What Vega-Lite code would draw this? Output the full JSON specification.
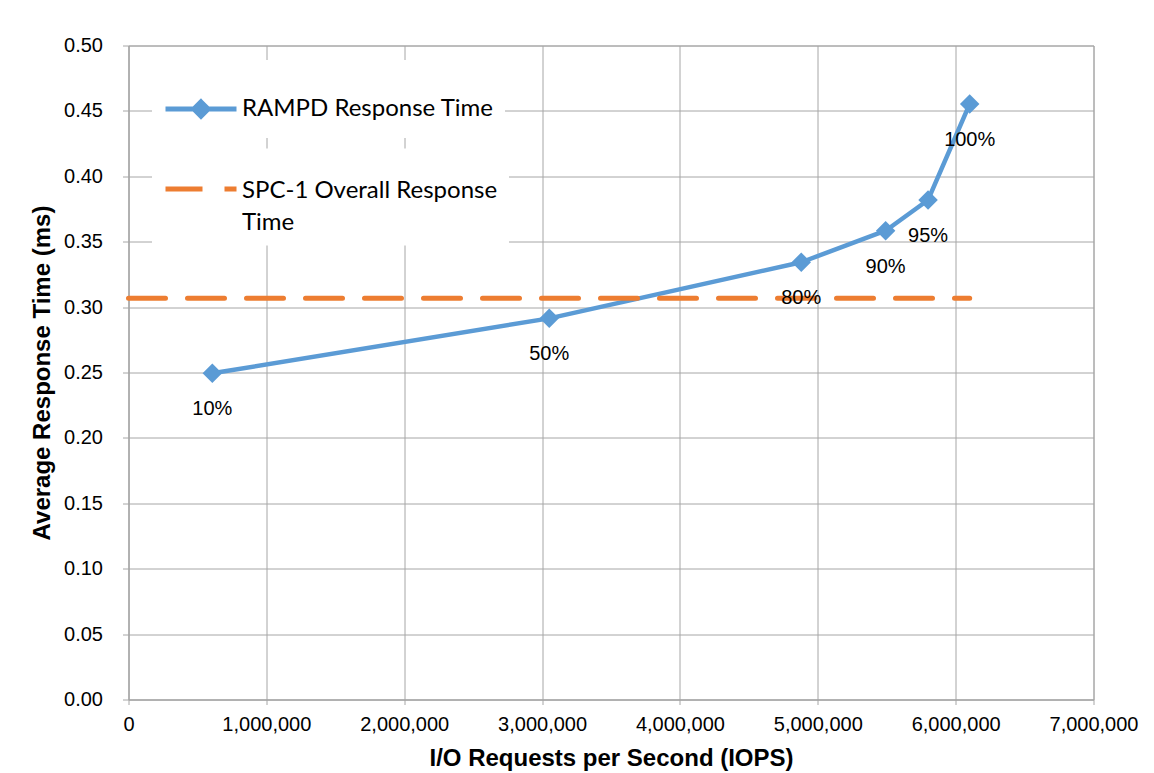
{
  "$schema": "https://vega.github.io/schema/vega-lite/v6.json",
  "width": 965,
  "height": 654,
  "autosize": {"type": "none"},
  "padding": {"left": 128.5, "top": 45.5, "right": 60, "bottom": 73},
  "background": "white",
  "config": {
    "view": {"stroke": "#a6a6a6"},
    "style": {"guide-label": {"lineHeight": 32}},
    "axis": {
      "labelFont": "Liberation Sans",
      "labelFontSize": 20,
      "labelColor": "#000000",
      "titleFont": "Liberation Sans",
      "titleFontSize": 24,
      "titleFontWeight": "bold",
      "titleColor": "#000000",
      "gridColor": "#a6a6a6",
      "domainColor": "#a6a6a6",
      "tickColor": "#a6a6a6",
      "labelFlush": false,
      "labelOverlap": false
    },
    "legend": {
      "labelFont": "Lato",
      "labelFontSize": 24,
      "labelColor": "#000000",
      "labelLimit": 500,
      "labelOffset": 3,
      "symbolSize": 5041,
      "symbolStrokeWidth": 5,
      "symbolOpacity": 1,
      "padding": 11,
      "fillColor": "white"
    }
  },
  "data": {
    "values": [
      {"series": "RAMPD Response Time", "iops": 608000, "rt": 0.2494, "label": "10%"},
      {"series": "RAMPD Response Time", "iops": 3052000, "rt": 0.2914, "label": "50%"},
      {"series": "RAMPD Response Time", "iops": 4880000, "rt": 0.3343, "label": "80%"},
      {"series": "RAMPD Response Time", "iops": 5492000, "rt": 0.3584, "label": "90%"},
      {"series": "RAMPD Response Time", "iops": 5800000, "rt": 0.3819, "label": "95%"},
      {"series": "RAMPD Response Time", "iops": 6102000, "rt": 0.4553, "label": "100%"},
      {"series": "SPC-1 Overall Response Time", "iops": 0, "rt": 0.3067, "label": ""},
      {"series": "SPC-1 Overall Response Time", "iops": 6102000, "rt": 0.3067, "label": ""}
    ]
  },
  "encoding": {
    "x": {
      "field": "iops",
      "type": "quantitative",
      "scale": {"domain": [0, 7000000], "nice": false},
      "axis": {
        "values": [0, 1000000, 2000000, 3000000, 4000000, 5000000, 6000000, 7000000],
        "format": ",d",
        "title": "I/O Requests per Second (IOPS)",
        "tickSize": 5,
        "labelPadding": 10,
        "titlePadding": 12
      }
    },
    "y": {
      "field": "rt",
      "type": "quantitative",
      "scale": {"domain": [0, 0.5], "nice": false},
      "axis": {
        "values": [0, 0.05, 0.1, 0.15, 0.2, 0.25, 0.3, 0.35, 0.4, 0.45, 0.5],
        "format": ".2f",
        "title": "Average Response Time (ms)",
        "tickSize": 6,
        "labelPadding": 20,
        "titlePadding": 9
      }
    }
  },
  "layer": [
    {
      "transform": [{"filter": "datum.series === 'RAMPD Response Time'"}],
      "mark": {"type": "line", "strokeWidth": 4.5, "strokeJoin": "round"},
      "encoding": {
        "color": {
          "field": "series",
          "type": "nominal",
          "scale": {"domain": ["RAMPD Response Time"], "range": ["#5B9BD5"]},
          "legend": {
            "orient": "none",
            "legendX": 23.5,
            "legendY": 14.5,
            "title": null,
            "symbolType": "M-1,0L1,0M0,-0.2L0.2,0L0,0.2L-0.2,0Z",
            "symbolFillColor": "#5B9BD5"
          }
        }
      }
    },
    {
      "transform": [{"filter": "datum.series === 'SPC-1 Overall Response Time'"}],
      "mark": {"type": "line", "strokeWidth": 5, "strokeCap": "round", "color": "#ED7D31"},
      "encoding": {
        "strokeDash": {
          "field": "series",
          "type": "nominal",
          "scale": {"domain": ["SPC-1 Overall Response Time"], "range": [[37, 22]]},
          "legend": {
            "orient": "none",
            "legendX": 23.5,
            "legendY": 103,
            "title": null,
            "symbolType": "M-1,-0.24L1,-0.24",
            "symbolStrokeColor": "#ED7D31",
            "labelBaseline": "alphabetic",
            "labelExpr": "datum.label === 'SPC-1 Overall Response Time' ? ['SPC-1 Overall Response', 'Time'] : datum.label"
          }
        }
      }
    },
    {
      "transform": [{"filter": "datum.series === 'RAMPD Response Time'"}],
      "mark": {"type": "point", "shape": "diamond", "filled": true, "size": 380, "color": "#5B9BD5", "opacity": 1}
    },
    {
      "transform": [{"filter": "datum.series === 'RAMPD Response Time'"}],
      "mark": {"type": "text", "dy": 36, "font": "Liberation Sans", "fontSize": 20, "color": "#000000", "align": "center", "baseline": "middle"},
      "encoding": {
        "text": {"field": "label", "type": "nominal"}
      }
    }
  ]
}
